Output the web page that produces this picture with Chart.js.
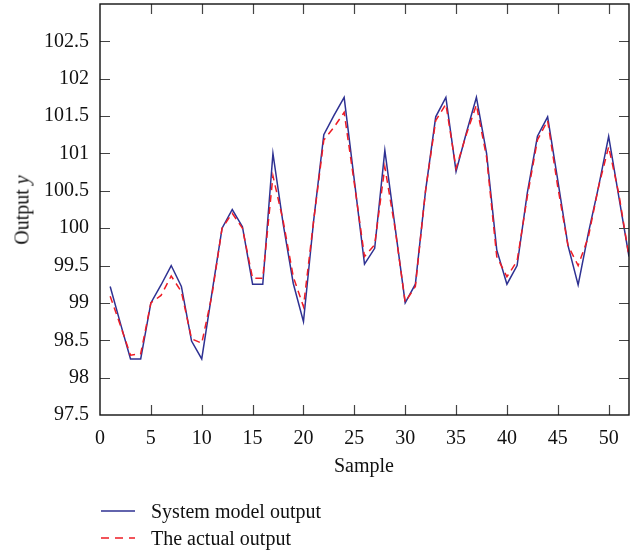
<!DOCTYPE html>
<html>
<head>
<meta charset="utf-8">
<script src="https://cdn.jsdelivr.net/npm/chart.js@4/dist/chart.umd.min.js"></script>
<style>
  html, body { margin: 0; padding: 0; background: #fff; }
  #wrap { position: relative; width: 637px; height: 554px; font-family: "Liberation Serif", "DejaVu Serif", serif; color: #111; }
  #c { position: absolute; left: 0; top: 0; }
  .lbl { position: absolute; font-size: 20px; white-space: nowrap; }
  #xt { left: 364px; top: 465px; transform: translate(-50%, -50%); }
  #yt { left: 22px; top: 210px; transform: translate(-50%, -50%) rotate(-90deg); }
  .leg { position: absolute; left: 101px; height: 24px; font-size: 20px; white-space: nowrap; }
  .leg svg { position: absolute; left: 0; top: 0; }
  .leg span { position: absolute; left: 50px; top: 0; line-height: 24px; }
</style>
</head>
<body>
<div id="wrap">
  <canvas id="c" width="637" height="554"></canvas>
  <div class="lbl" id="xt">Sample</div>
  <div class="lbl" id="yt">Output <i>y</i></div>
  <div class="leg" style="top:499px;">
    <svg width="40" height="24"><line x1="0" y1="12" x2="34" y2="12" stroke="#2e3192" stroke-width="1.5"/></svg>
    <span>System model output</span>
  </div>
  <div class="leg" style="top:526px;">
    <svg width="40" height="24"><line x1="0" y1="12" x2="34" y2="12" stroke="#ee1c25" stroke-width="1.5" stroke-dasharray="8,6"/></svg>
    <span>The actual output</span>
  </div>
</div>
<script>
const samples = [1,2,3,4,5,6,7,8,9,10,11,12,13,14,15,16,17,18,19,20,21,22,23,24,25,26,27,28,29,30,31,32,33,34,35,36,37,38,39,40,41,42,43,44,45,46,47,48,49,50,51,52];
const modelOutput = [99.22, 98.73, 98.25, 98.25, 99.0, 99.24, 99.5, 99.22, 98.49, 98.25,
  99.13, 100.0, 100.25, 100.02, 99.25, 99.25, 101.0, 100.06, 99.26, 98.75,
  100.1, 101.25, 101.51, 101.75, 100.64, 99.52, 99.73, 101.04, 100.02, 99.0,
  99.25, 100.5, 101.49, 101.75, 100.76, 101.27, 101.75, 101.0, 99.71, 99.25,
  99.5, 100.47, 101.23, 101.49, 100.64, 99.77, 99.24, 99.93, 100.55, 101.23,
  100.42, 99.62];
const actualOutput = [99.09, 98.7, 98.3, 98.32, 99.0, 99.1, 99.36, 99.15, 98.52, 98.46,
  99.1, 100.0, 100.2, 100.0, 99.33, 99.33, 100.7, 100.1, 99.35, 98.95,
  100.1, 101.18, 101.35, 101.55, 100.6, 99.62, 99.78, 100.82, 100.0, 99.01,
  99.22, 100.5, 101.44, 101.66, 100.8, 101.25, 101.65, 100.95, 99.62, 99.35,
  99.56, 100.42, 101.18, 101.44, 100.55, 99.77, 99.5, 99.88, 100.55, 101.09,
  100.46, 99.62];
const xTickLabels = [0,5,10,15,20,25,30,35,40,45,50];
const yTickLabels = [97.5,98,98.5,99,99.5,100,100.5,101,101.5,102,102.5];

const toXY = (ys) => samples.map((s, i) => ({ x: s, y: ys[i] }));

const frame = {
  id: 'frame',
  afterDatasetsDraw(chart) {
    const { ctx, chartArea: a, scales } = chart;
    const L = 10;
    ctx.save();
    ctx.strokeStyle = '#444';
    ctx.lineWidth = 1.2;
    ctx.beginPath();
    xTickLabels.forEach(v => {
      const px = Math.round(scales.x.getPixelForValue(v)) + 0.5;
      if (px <= a.left + 1 || px >= a.right - 1) return;
      ctx.moveTo(px, a.bottom); ctx.lineTo(px, a.bottom - L);
      ctx.moveTo(px, a.top); ctx.lineTo(px, a.top + L);
    });
    yTickLabels.forEach(v => {
      const py = Math.round(scales.y.getPixelForValue(v)) + 0.5;
      if (py <= a.top + 1 || py >= a.bottom - 1) return;
      ctx.moveTo(a.left, py); ctx.lineTo(a.left + L, py);
      ctx.moveTo(a.right, py); ctx.lineTo(a.right - L, py);
    });
    ctx.stroke();
    ctx.strokeStyle = '#111';
    ctx.lineWidth = 1.4;
    ctx.strokeRect(a.left, a.top, a.right - a.left, a.bottom - a.top);
    ctx.restore();
  }
};

new Chart(document.getElementById('c'), {
  type: 'line',
  data: {
    datasets: [
      { label: 'System model output', data: toXY(modelOutput), borderColor: '#2e3192', borderWidth: 1.5,
        pointRadius: 0, tension: 0, fill: false, order: 1 },
      { label: 'The actual output', data: toXY(actualOutput), borderColor: '#ee1c25', borderWidth: 1.5,
        borderDash: [7, 5], pointRadius: 0, tension: 0, fill: false, order: 0 }
    ]
  },
  options: {
    responsive: false,
    animation: false,
    layout: { padding: { left: 0, top: 4, right: 8, bottom: 0 } },
    plugins: { legend: { display: false }, tooltip: { enabled: false } },
    scales: {
      x: {
        type: 'linear', min: 0, max: 52,
        grid: { display: false }, border: { display: false },
        afterFit(s) { s.height = 139; s.paddingLeft = 0; s.paddingRight = 0; },
        ticks: {
          stepSize: 5, includeBounds: false, autoSkip: false, maxRotation: 0, padding: 4,
          color: '#111', font: { family: '"Liberation Serif", serif', size: 20 },
          callback: (v) => xTickLabels.includes(v) ? String(v) : ''
        }
      },
      y: {
        type: 'linear', min: 97.5, max: 103,
        grid: { display: false }, border: { display: false },
        afterFit(s) { s.width = 100; s.paddingTop = 0; s.paddingBottom = 0; },
        ticks: {
          stepSize: 0.5, autoSkip: false, padding: 3,
          color: '#111', font: { family: '"Liberation Serif", serif', size: 20 },
          callback: (v) => yTickLabels.includes(v) ? String(v) : ''
        }
      }
    }
  },
  plugins: [frame]
});
</script>
</body>
</html>
